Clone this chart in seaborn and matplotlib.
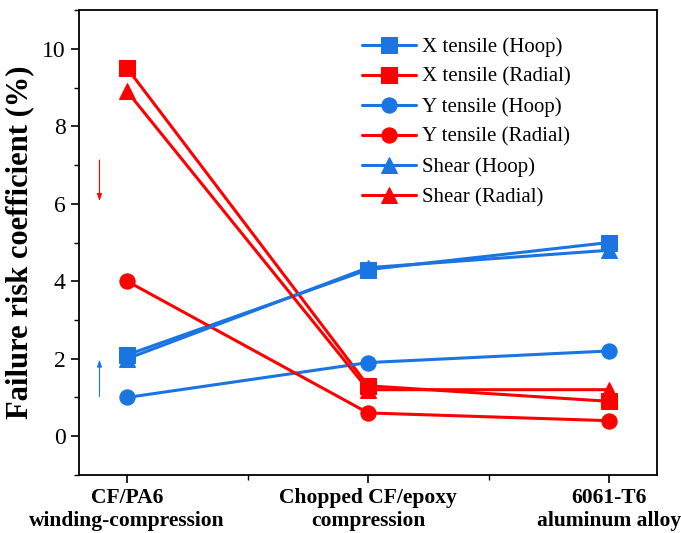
import matplotlib
matplotlib.use("Agg")
import matplotlib.pyplot as plt
import seaborn as sns
import pandas as pd
from matplotlib.ticker import MultipleLocator

categories = ["CF/PA6\nwinding-compression", "Chopped CF/epoxy\ncompression", "6061-T6\naluminum alloy"]
series_names = ["X tensile (Hoop)", "X tensile (Radial)", "Y tensile (Hoop)",
                "Y tensile (Radial)", "Shear (Hoop)", "Shear (Radial)"]
x_hoop = [2.1, 4.3, 5.0]
x_radial = [9.5, 1.3, 0.9]
y_hoop = [1.0, 1.9, 2.2]
y_radial = [4.0, 0.6, 0.4]
shear_hoop = [2.0, 4.35, 4.8]
shear_radial = [8.9, 1.2, 1.2]
values = [x_hoop, x_radial, y_hoop, y_radial, shear_hoop, shear_radial]
markers = ["s", "s", "o", "o", "^", "^"]
BLUE = "#1a74e2"
RED = "#ff0000"
colors = [BLUE, RED, BLUE, RED, BLUE, RED]

sns.set_theme(style="ticks")
plt.rcParams["font.family"] = ["Liberation Serif", "DejaVu Serif"]
plt.rcParams["text.color"] = "black"
plt.rcParams["axes.labelcolor"] = "black"
plt.rcParams["xtick.color"] = "black"
plt.rcParams["ytick.color"] = "black"

fig = plt.figure(figsize=(6.81, 5.33), dpi=100)
ax = fig.add_axes([0.116, 0.109, 0.849, 0.872])

pos = list(range(len(categories)))
for name, vals, m, c in zip(series_names, values, markers, colors):
    df = pd.DataFrame({"x": pos, "y": vals})
    sns.lineplot(data=df, x="x", y="y", ax=ax, color=c, marker=m, markersize=11,
                 linewidth=2.2, markeredgecolor=c, label=name)

# arrows
ax.annotate("", xy=(-0.115, 6.0), xytext=(-0.115, 7.2),
            arrowprops=dict(arrowstyle="-|>,head_length=0.35,head_width=0.12", color=RED, lw=0.8))
ax.annotate("", xy=(-0.115, 2.05), xytext=(-0.115, 0.95),
            arrowprops=dict(arrowstyle="-|>,head_length=0.35,head_width=0.12", color=BLUE, lw=0.8))

ax.set_xlim(-0.2, 2.2)
ax.set_ylim(-1, 11)
ax.set_xticks(pos)
ax.set_xticklabels(categories, fontsize=15.5, fontweight="bold", color="black")
ax.xaxis.set_minor_locator(MultipleLocator(0.5))
ax.yaxis.set_major_locator(MultipleLocator(2))
ax.yaxis.set_minor_locator(MultipleLocator(1))
ax.tick_params(axis="y", labelsize=17, labelcolor="black")
ax.tick_params(which="major", direction="out", length=6, width=1.2, color="black")
ax.tick_params(which="minor", direction="out", length=3.5, width=1.0, color="black")
ax.set_xlabel("")
ax.set_ylabel("Failure risk coefficient (%)", fontsize=22, fontweight="bold",
              labelpad=6, color="black")
for s in ax.spines.values():
    s.set_linewidth(1.3)
    s.set_color("black")

leg = ax.legend(loc="upper left", bbox_to_anchor=(0.49, 0.942), frameon=False,
                borderaxespad=0, borderpad=0,
                fontsize=15, handlelength=2.6, labelspacing=0.5, handletextpad=0.25)
for t in leg.get_texts():
    t.set_color("black")

fig.savefig("out.png", dpi=100)
